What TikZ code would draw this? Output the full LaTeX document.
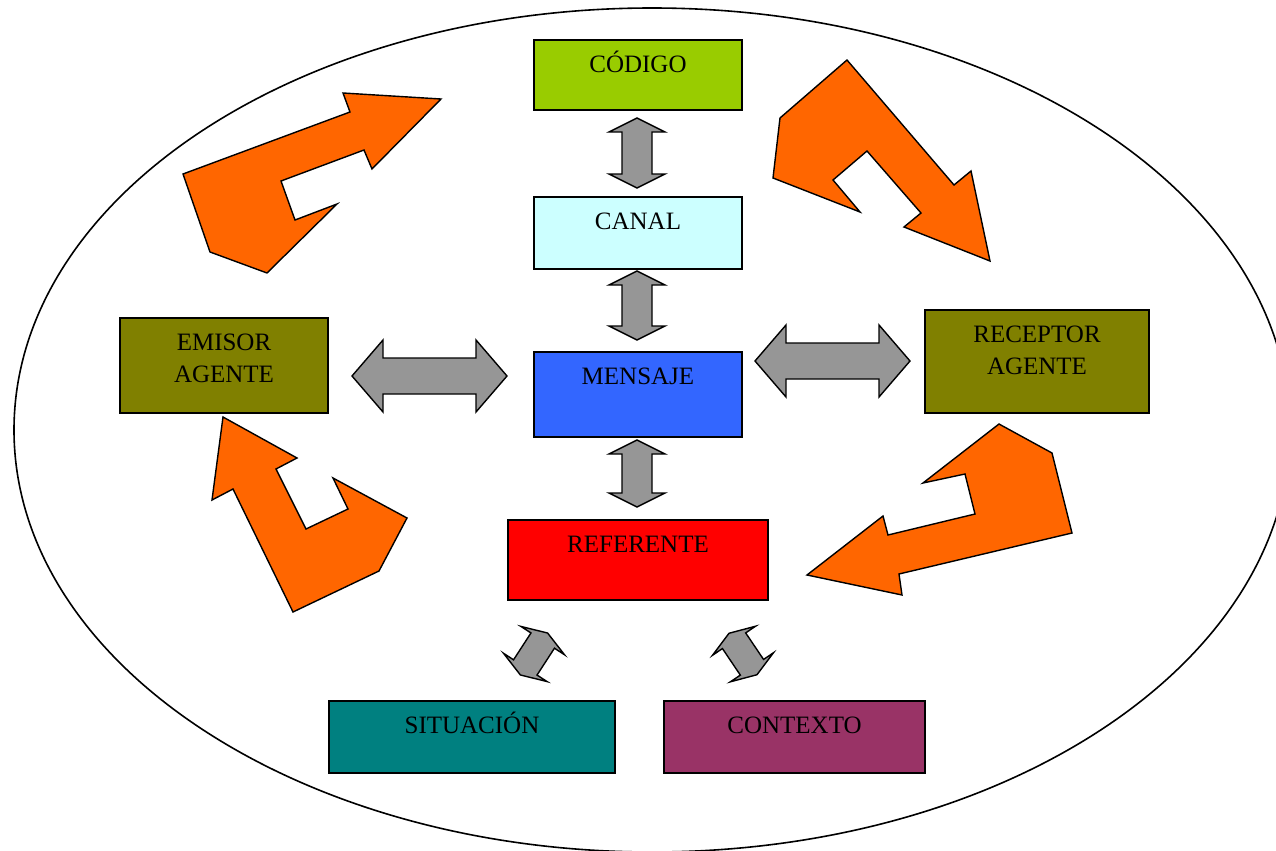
\documentclass[tikz,border=0pt]{standalone}
\usepackage{fontspec}
\setmainfont{Liberation Serif}
\usepackage{tikz}

\definecolor{codigo}{HTML}{99CC00}
\definecolor{canal}{HTML}{CCFFFF}
\definecolor{mensaje}{HTML}{3366FF}
\definecolor{referente}{HTML}{FF0000}
\definecolor{agente}{HTML}{808000}
\definecolor{situacion}{HTML}{008080}
\definecolor{contexto}{HTML}{993366}
\definecolor{naranja}{HTML}{FF6600}
\definecolor{gris}{HTML}{969696}

\tikzset{
box/.style={draw, line width=0.7pt, inner sep=0pt,
  font=\fontsize{12.5}{16}\selectfont, text height=16pt},
flecha/.style={draw, fill=naranja, line width=0.7pt},
grisflecha/.style={draw, fill=gris, line width=0.7pt}}

% two lines of text, aligned on the first one
\newcommand{\dosrenglones}[2]{\begin{tabular}[t]{@{}c@{}}#1\\#2\end{tabular}}
% block double arrow: centre, angle, half length, head length, head half width, shaft half width
\newcommand{\dobleflecha}[6]{%
  \filldraw[grisflecha, shift={#1}, rotate=#2]
    (-#3,0) -- (-#3+#4,#5) -- (-#3+#4,#6) -- (#3-#4,#6) -- (#3-#4,#5) -- (#3,0)
    -- (#3-#4,-#5) -- (#3-#4,-#6) -- (-#3+#4,-#6) -- (-#3+#4,-#5) -- cycle;}

\begin{document}
\begin{tikzpicture}[x=0.5pt, y=-0.5pt]

    \clip (0,0) rectangle (1276,851);
    \draw[line width=0.8pt] (652,430) ellipse [x radius=638, y radius=422];

    % orange arrows
    \filldraw[flecha] (183,174) -- (210,252) -- (267,273) -- (337,204) -- (295,220) -- (281,181)
        -- (364,150) -- (372,169) -- (441,99) -- (343,93) -- (350,112) -- cycle;
    \filldraw[flecha] (847,60) -- (780,118) -- (773,178) -- (860,212) -- (833,180) -- (867,151)
        -- (921,213) -- (904,227) -- (990,261) -- (971,171) -- (954,185) -- cycle;
    \filldraw[flecha] (223,417) -- (212,500) -- (233,489) -- (293,612) -- (379,571) -- (407,518)
        -- (333,478) -- (348,509) -- (306,529) -- (276,469) -- (297,458) -- cycle;
    \filldraw[flecha] (999,424) -- (1052,453) -- (1072,533) -- (899,574) -- (902,595) -- (807,575)
        -- (883,516) -- (888,535) -- (975,514) -- (965,474) -- (923,483) -- cycle;

    % boxes
    \node[box, fill=codigo, minimum width=104pt, minimum height=35pt, text depth=19pt]
        (codigo) at (638,75) {CÓDIGO};
    \node[box, fill=canal, minimum width=104pt, minimum height=36pt, text depth=20pt]
        (canal) at (638,233) {CANAL};
    \node[box, fill=mensaje, minimum width=104pt, minimum height=42.5pt, text depth=26.5pt]
        (mensaje) at (638,394.5) {MENSAJE};
    \node[box, fill=referente, minimum width=130pt, minimum height=40pt, text depth=24pt]
        (referente) at (638,560) {REFERENTE};
    \node[box, fill=agente, minimum width=104pt, minimum height=47.5pt, text depth=31.5pt]
        (emisor) at (224,365.5) {\dosrenglones{EMISOR}{AGENTE}};
    \node[box, fill=agente, minimum width=112pt, minimum height=51.5pt, text depth=35.5pt]
        (receptor) at (1037,361.5) {\dosrenglones{RECEPTOR}{AGENTE}};
    \node[box, fill=situacion, minimum width=143pt, minimum height=36pt, text depth=20pt]
        (situacion) at (472,737) {SITUACIÓN};
    \node[box, fill=contexto, minimum width=130.5pt, minimum height=36pt, text depth=20pt]
        (contexto) at (794.5,737) {CONTEXTO};

    % gray double arrows
    \dobleflecha{(637,153)}{90}{35}{14}{28}{15}
    \dobleflecha{(637,305.5)}{90}{34.5}{14}{28}{15}
    \dobleflecha{(637,473.5)}{90}{33.5}{14}{28}{15}
    \dobleflecha{(429.5,376)}{0}{77.5}{31}{36}{18}
    \dobleflecha{(832.5,361)}{0}{77.5}{31}{36}{18}
    \dobleflecha{(534,654)}{57}{25}{9}{26}{14}
    \dobleflecha{(743,654)}{-56}{25}{9}{26}{14}

\end{tikzpicture}
\end{document}
